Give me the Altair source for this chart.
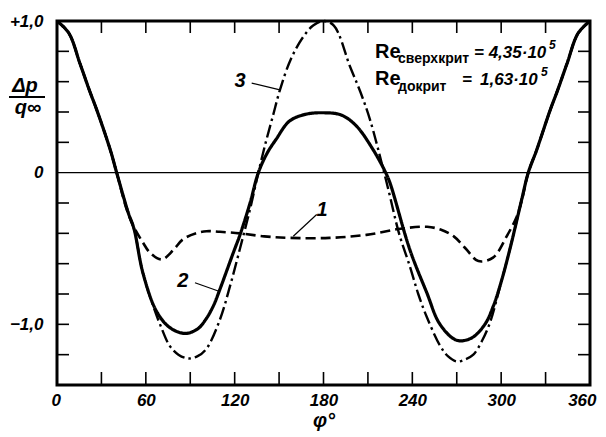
import altair as alt
import pandas as pd

# ---- data ----
# curve 1: dashed (subcritical)
phi_1 = [0, 8, 15.5, 22, 27, 36, 40.3, 47, 52, 58, 63, 70.7, 78.6, 85, 94, 101, 110, 123.6,
         140, 157, 184, 209, 232, 250, 259, 268, 276, 284.6, 294.5, 303.7, 310.5, 314, 318.3,
         324, 333, 338, 344.5, 352, 360]
val_1 = [1.0, 0.92, 0.72, 0.54, 0.41, 0.15, 0.0, -0.24, -0.36, -0.46, -0.53, -0.572, -0.51, -0.44,
         -0.40, -0.386, -0.39, -0.40, -0.42, -0.43, -0.43, -0.41, -0.37, -0.357, -0.375, -0.42, -0.50,
         -0.583, -0.56, -0.42, -0.29, -0.18, 0.0, 0.15, 0.41, 0.54, 0.72, 0.92, 1.0]

# curve 2: solid (supercritical)
phi_2 = [0, 8, 15.5, 22, 27, 36, 40.3, 48, 52, 58, 67, 76, 86.5, 95, 101, 106, 110, 119, 123.6,
         130.4, 136, 142, 148, 157, 168, 180, 192, 202, 213.6, 222, 225, 238.4, 249.7, 258.7, 270,
         280, 289, 294.7, 300, 306, 313.8, 318.3, 324, 333, 338, 344.5, 352, 360]
val_2 = [1.0, 0.92, 0.72, 0.54, 0.41, 0.15, 0.0, -0.26, -0.37, -0.66, -0.91, -1.02, -1.06, -1.03,
         -0.96, -0.87, -0.77, -0.53, -0.41, -0.2, 0.0, 0.13, 0.22, 0.34, 0.385, 0.395, 0.38, 0.31,
         0.15, 0.0, -0.07, -0.51, -0.79, -1.0, -1.105, -1.09, -1.0, -0.88, -0.72, -0.50, -0.18, 0.0,
         0.15, 0.41, 0.54, 0.72, 0.92, 1.0]

# curve 3: dash-dot
phi_3 = [0, 8, 15.5, 22, 27, 36, 40.3, 48, 52, 58, 65, 70, 76, 82, 88.5, 95, 101, 110, 116.8, 123.6,
         130.4, 136, 141, 146, 150.6, 158, 166.4, 173, 180, 187, 197.9, 205, 211.4, 219.3, 222, 225,
         231, 238.4, 244, 249.7, 258.7, 264, 270, 276, 281.2, 287, 292.4, 299, 306, 313.8, 318.3,
         324, 333, 338, 344.5, 352, 360]
val_3 = [1.0, 0.92, 0.72, 0.54, 0.41, 0.15, 0.0, -0.26, -0.37, -0.66, -0.88, -1.01, -1.14, -1.2,
         -1.225, -1.21, -1.16, -0.97, -0.75, -0.5, -0.24, 0.0, 0.2, 0.38, 0.546, 0.75, 0.897, 0.97,
         1.0, 0.97, 0.70, 0.53, 0.35, 0.064, -0.04, -0.16, -0.40, -0.62, -0.80, -0.95, -1.14, -1.21,
         -1.245, -1.23, -1.2, -1.11, -0.99, -0.76, -0.50, -0.18, 0.0, 0.15, 0.41, 0.54, 0.72, 0.92,
         1.0]

# curve number labels and their leader lines
lbl_text = ["1", "2", "3"]
lbl_phi = [179, 85, 123.6]
lbl_val = [-0.243, -0.717, 0.602]
lead_phi_a = [175.4, 93.2, 131.5]
lead_val_a = [-0.276, -0.726, 0.59]
lead_phi_b = [159.6, 108.9, 150.6]
lead_val_b = [-0.419, -0.78, 0.546]

# axis ticks / labels
x_label_values = [0, 60, 120, 180, 240, 300, 360]
x_minor_ticks = [30, 60, 90, 120, 150, 180, 210, 240, 270, 300, 330]
y_label_values = [-1.0, 0.0, 1.0]
y_label_texts = ["\u22121,0", "0", "+1,0"]
y_minor_ticks = [-1.2, -1.0, -0.8, -0.6, -0.4, -0.2, 0.2, 0.4, 0.6, 0.8]

W, H = 533, 364
FONT = "Liberation Sans"

xs = alt.Scale(domain=[0, 360], nice=False, zero=False)
ys = alt.Scale(domain=[-1.4, 1.0], nice=False, zero=False)

label_expr = " : ".join(
    f"datum.value == {v} ? '{t}'" for v, t in zip(y_label_values, y_label_texts)
) + " : ''"

x_axis = alt.Axis(values=x_label_values, format="d", ticks=False, domain=False, grid=False,
                  labelFont=FONT, labelFontSize=17, labelFontWeight="bold", labelFontStyle="italic",
                  labelColor="black", labelPadding=7, labelFlush=True, labelFlushOffset=6,
                  labelOverlap=False,
                  title="\u03c6\u00b0", titleFont=FONT, titleFontSize=20, titleFontWeight="bold",
                  titleFontStyle="italic", titleColor="black", titlePadding=2)
y_axis = alt.Axis(values=y_label_values, labelExpr=label_expr, ticks=False, domain=False, grid=False,
                  labelFont=FONT, labelFontSize=17, labelFontWeight="bold", labelFontStyle="italic",
                  labelColor="black", labelPadding=14, labelFlush=False, labelOverlap=False, title="")


def X(field):
    return alt.X(field, type="quantitative", scale=xs, axis=x_axis)


def Y(field):
    return alt.Y(field, type="quantitative", scale=ys, axis=y_axis)


def curve(phis, vals, dash, width):
    df = pd.DataFrame({"phi": phis, "val": vals})
    return alt.Chart(df).mark_line(color="black", strokeWidth=width, interpolate="catmull-rom",
                                   strokeDash=dash, strokeCap="butt").encode(x=X("phi"), y=Y("val"))


c2 = curve(phi_2, val_2, [1, 0], 3.2)
c1 = curve(phi_1, val_1, [10, 5], 2.6)
c3 = curve(phi_3, val_3, [13, 4, 2.5, 4], 2.4)

zero = alt.Chart(pd.DataFrame({"v": [0.0]})).mark_rule(color="black", strokeWidth=1.4).encode(y=Y("v"))

ydf = pd.DataFrame({"v": y_minor_ticks})
xdf = pd.DataFrame({"p": x_minor_ticks})
tick_l = alt.Chart(ydf).mark_rule(color="black", strokeWidth=1.6).encode(
    y=Y("v"), x=alt.value(0), x2=alt.value(12))
tick_r = alt.Chart(ydf).mark_rule(color="black", strokeWidth=1.6).encode(
    y=Y("v"), x=alt.value(W - 12), x2=alt.value(W))
tick_t = alt.Chart(xdf).mark_rule(color="black", strokeWidth=1.6).encode(
    x=X("p"), y=alt.value(0), y2=alt.value(12))
tick_b = alt.Chart(xdf).mark_rule(color="black", strokeWidth=1.6).encode(
    x=X("p"), y=alt.value(H - 13), y2=alt.value(H))

lbl_df = pd.DataFrame({"t": lbl_text, "phi": lbl_phi, "val": lbl_val})
labels = alt.Chart(lbl_df).mark_text(font=FONT, fontSize=20, fontWeight="bold", fontStyle="italic",
                                     color="black", baseline="middle", align="center").encode(
    x=X("phi"), y=Y("val"), text="t:N")

lead_df = pd.DataFrame({"pa": lead_phi_a, "va": lead_val_a, "pb": lead_phi_b, "vb": lead_val_b})
leaders = alt.Chart(lead_df).mark_rule(color="black", strokeWidth=1.2).encode(
    x=X("pa"), y=Y("va"), x2="pb:Q", y2="vb:Q")

# Reynolds-number annotation and y-axis fraction title (pixel placement of text)
one = pd.DataFrame({"a": [0]})


def txt(s, x, y, size, weight="bold", style="normal", align="left", baseline="alphabetic"):
    return alt.Chart(one).mark_text(text=s, font=FONT, fontSize=size, fontWeight=weight,
                                    fontStyle=style, color="black", align=align,
                                    baseline=baseline).encode(x=alt.value(x), y=alt.value(y))


annot = [
    txt("Re", 318, 37, 20),
    txt("\u0441\u0432\u0435\u0440\u0445\u043a\u0440\u0438\u0442", 341, 42, 14),
    txt("= 4,35\u00b710", 417, 37, 17, style="italic"),
    txt("5", 492, 28, 12, style="italic"),
    txt("Re", 318, 64, 20),
    txt("\u0434\u043e\u043a\u0440\u0438\u0442", 341, 70, 14),
    txt("=", 405, 64, 17, style="italic"),
    txt("1,63\u00b710", 423, 64, 17, style="italic"),
    txt("5", 484, 55, 12, style="italic"),
    txt("\u0394p", -32, 71, 20, style="italic", align="center"),
    txt("q\u221e", -29, 93, 20, style="italic", align="center"),
]
frac_bar = alt.Chart(one).mark_rule(color="black", strokeWidth=2).encode(
    x=alt.value(-48), x2=alt.value(-12), y=alt.value(76))

chart = alt.layer(c2, zero, tick_l, tick_r, tick_t, tick_b, c1, c3, leaders, labels,
                  frac_bar, *annot).properties(
    width=W, height=H, autosize="none",
    padding={"left": 49, "top": 13, "right": 8, "bottom": 47},
).configure_view(stroke="black", strokeWidth=3)

chart.save("out.html", embed_options={"renderer": "svg", "actions": False})
